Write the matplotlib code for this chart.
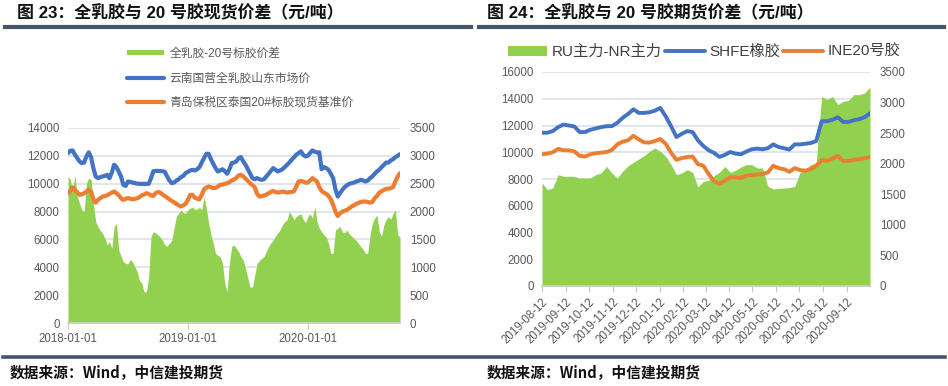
import numpy as np
import pandas as pd
import matplotlib
matplotlib.use('Agg')
import matplotlib.pyplot as plt
import matplotlib.dates as mdates
from matplotlib.lines import Line2D

plt.rcParams['font.family'] = ['Liberation Sans', 'Noto Sans CJK SC', 'DejaVu Sans']

GREEN = '#92D050'
BLUE = '#4472C4'
ORANGE = '#ED7D31'
GRID = '#D9DEEA'
TICK = '#595959'
BAR = '#44546A'

# ---- chart 23: weekly values from 2018-01-01 ----
spread_23 = [2630, 2570, 2360, 2660, 2270, 2150, 2030, 2000, 2510, 2600,
             2570, 2150, 1820, 1730, 1660, 1610, 1520, 1400, 1460, 1340,
             1730, 1790, 1310, 1200, 1100, 1070, 1060, 1140, 1100, 1010,
             920, 760, 720, 560, 560, 830, 1550, 1640, 1620, 1580,
             1540, 1480, 1400, 1380, 1430, 1480, 1700, 1910, 1970, 2030,
             1980, 1970, 2030, 2060, 2080, 2040, 2040, 2080, 2030, 2270,
             2060, 1790, 1580, 1430, 1250, 1210, 1190, 1070, 710, 560,
             1070, 1370, 1400, 1340, 1280, 1190, 1130, 980, 800, 640,
             650, 860, 1070, 1120, 1160, 1190, 1280, 1370, 1440, 1490,
             1560, 1620, 1670, 1760, 1820, 1850, 2000, 1940, 1850, 1910,
             1940, 1960, 1860, 1800, 1910, 1960, 1880, 2090, 1820, 1700,
             1640, 1580, 1540, 1430, 1250, 1250, 1670, 1700, 1730, 1640,
             1620, 1670, 1600, 1560, 1520, 1480, 1430, 1370, 1320, 1250,
             1250, 1580, 1790, 1880, 1940, 1640, 1560, 1760, 1860, 1910,
             1860, 1970, 2030, 1580, 1550]
yunnan = [12200, 12370, 12390, 12080, 11840, 11600, 11480, 11520, 11960, 12250,
          11910, 11120, 10520, 10400, 10470, 10520, 10560, 10640, 10400, 10800,
          11360, 11190, 10880, 10520, 9920, 9840, 10160, 10130, 10080, 10040,
          10010, 9990, 9990, 9990, 9990, 9990, 10400, 10900, 10920, 10920,
          10900, 10900, 10850, 10520, 10230, 10040, 10080, 10230, 10320, 10470,
          10560, 10760, 10850, 10950, 11000, 10950, 11040, 11190, 11520, 11840,
          12150, 12150, 11760, 11430, 11120, 10880, 10950, 11040, 10900, 10710,
          11040, 11480, 11520, 11600, 11840, 11910, 11600, 11360, 11040, 10710,
          10400, 10320, 10400, 10320, 10280, 10320, 10520, 10710, 10920, 11120,
          11000, 10880, 10950, 11040, 11190, 11360, 11520, 11720, 11890, 12080,
          12200, 12320, 12080, 11960, 12010, 12200, 12390, 12300, 12250, 12250,
          11040, 11190, 11120, 11000, 10710, 10400, 9600, 9080, 9320, 9560,
          9750, 9890, 9990, 10040, 10080, 10160, 10200, 10280, 10230, 10160,
          10230, 10400, 10520, 10710, 10880, 11000, 11190, 11360, 11520, 11520,
          11670, 11760, 11910, 12010, 12120]
qingdao = [9320, 9480, 9750, 9560, 9390, 9200, 9240, 9320, 9440, 9560,
           9440, 8880, 8640, 8840, 8960, 9080, 9120, 9170, 9270, 9360,
           9440, 9320, 9170, 8960, 8840, 8910, 8960, 8930, 8880, 8910,
           8960, 9030, 9170, 9220, 9320, 9270, 9170, 9120, 9320, 9410,
           9360, 9220, 9120, 9000, 8880, 8760, 8670, 8550, 8450, 8360,
           8450, 8550, 8840, 9200, 9200, 9000, 8930, 8880, 9200, 9600,
           9720, 9800, 9750, 9680, 9700, 9800, 9920, 9940, 9990, 10040,
           10110, 10230, 10300, 10420, 10590, 10640, 10520, 10370, 10200, 10040,
           9890, 9750, 9270, 9080, 9100, 9150, 9220, 9320, 9410, 9480,
           9410, 9360, 9390, 9440, 9410, 9360, 9390, 9410, 9460, 9800,
           10160, 10200, 10160, 10080, 10080, 10230, 10400, 10280, 10160, 9750,
           9480, 9360, 9270, 9120, 8880, 8480, 8000, 7680, 7880, 8000,
           8070, 8120, 8240, 8360, 8450, 8550, 8620, 8690, 8720, 8720,
           8690, 8640, 8690, 8960, 9120, 9360, 9460, 9560, 9630, 9650,
           9680, 9750, 10160, 10520, 10760]
labels_23 = ['全乳胶-20号标胶价差', '云南国营全乳胶山东市场价', '青岛保税区泰国20#标胶现货基准价']
ticks_23 = ['2018-01-01', '2019-01-01', '2020-01-01']

# ---- chart 24: weekly values from 2019-08-12 ----
rn_spread = [1685, 1576, 1603, 1821, 1794, 1794, 1794, 1766, 1766, 1766,
             1821, 1848, 1957, 1848, 1766, 1876, 1968, 2023, 2077, 2132,
             2203, 2257, 2203, 2121, 1985, 1821, 1848, 1903, 1859, 1619,
             1712, 1728, 1805, 1859, 1957, 1859, 1892, 1946, 1985, 1985,
             1930, 1930, 1630, 1587, 1597, 1603, 1608, 1630, 1859, 1914,
             1985, 2012, 3102, 3048, 3102, 2966, 3020, 3037, 3129, 3129,
             3157, 3255]
shfe = [11460, 11460, 11580, 11880, 12070, 12000, 11930, 11510, 11510, 11680,
        11780, 11880, 11950, 11950, 12200, 12570, 12860, 13210, 12940, 12940,
        12990, 13110, 13310, 12690, 11950, 11140, 11380, 11580, 11510, 10890,
        10470, 10150, 9950, 9650, 9800, 10020, 9900, 9850, 10050, 10220,
        10270, 10220, 10300, 10590, 10390, 10300, 10200, 10590, 10590, 10640,
        10690, 10840, 12320, 12320, 12420, 12620, 12270, 12270, 12390, 12470,
        12620, 12910]
ine = [9850, 9900, 10000, 10250, 10150, 10150, 10070, 9730, 9680, 9850,
       9930, 9970, 10020, 10170, 10590, 10790, 10890, 11230, 10960, 10740,
       10720, 10840, 10990, 10640, 9970, 9430, 9560, 9650, 9680, 9110,
       8990, 8370, 7830, 7630, 7880, 8120, 8120, 8070, 8250, 8300,
       8320, 8370, 8490, 8990, 8810, 8740, 8540, 8810, 8670, 8620,
       8740, 8990, 9410, 9360, 9530, 9730, 9360, 9360, 9430, 9480,
       9560, 9650]
labels_24 = ['RU主力-NR主力', 'SHFE橡胶', 'INE20号胶']
ticks_24 = ['2019-08-12', '2019-09-12', '2019-10-12', '2019-11-12', '2019-12-12',
            '2020-01-12', '2020-02-12', '2020-03-12', '2020-04-12', '2020-05-12',
            '2020-06-12', '2020-07-12', '2020-08-12', '2020-09-12']

dates_23 = pd.date_range('2018-01-01', periods=len(spread_23), freq='7D')
dates_24 = pd.date_range('2019-08-12', periods=len(rn_spread), freq='7D')

W, H = 948, 386
fig = plt.figure(figsize=(W / 100, H / 100), dpi=100)


def rect(x0, y0, x1, y1):
    return [x0 / W, 1 - y1 / H, (x1 - x0) / W, (y1 - y0) / H]


def panel(box, dates, area, blue, orange, labels, ymax, lw):
    ax = fig.add_axes(box)
    ax_r = ax.twinx()
    ax_l = ax.twinx()
    ax.set_ylim(0, ymax)
    ax.set_yticks(np.arange(0, ymax + 1, 2000))
    ax.grid(axis='y', color=GRID, lw=1.1)
    ax.set_axisbelow(True)
    ax_r.fill_between(dates, 0, area, color=GREEN, lw=0, label=labels[0])
    ax_r.set_ylim(0, 3500)
    ax_r.set_yticks(np.arange(0, 3501, 500))
    ax_l.plot(dates, blue, color=BLUE, lw=lw, label=labels[1], solid_capstyle='round')
    ax_l.plot(dates, orange, color=ORANGE, lw=lw, label=labels[2], solid_capstyle='round')
    ax_l.set_ylim(0, ymax)
    ax_l.set_yticks([])
    ax.set_xlim(dates[0], dates[-1])
    for a in (ax, ax_r, ax_l):
        for s in a.spines.values():
            s.set_visible(False)
    for a in (ax, ax_l):
        a.spines['bottom'].set_visible(True)
        a.spines['bottom'].set_color('#D0D0D0')
        a.spines['bottom'].set_linewidth(1.2)
    ax.tick_params(axis='y', length=0, labelcolor=TICK, labelsize=8.3, pad=6)
    ax_r.tick_params(axis='y', length=0, labelcolor=TICK, labelsize=8.3, pad=7)
    ax.tick_params(axis='x', length=4, color='#C8C8C8', labelcolor=TICK, labelsize=8.3, pad=3)
    ax.xaxis.set_major_formatter(mdates.DateFormatter('%Y-%m-%d'))
    h1, l1 = ax_r.get_legend_handles_labels()
    h2, l2 = ax_l.get_legend_handles_labels()
    return ax, h1 + h2, l1 + l2


# left chart
ax1, h, l = panel(rect(68, 128, 400, 323), dates_23, spread_23, yunnan, qingdao,
                  labels_23, 14000, 3.0)
ax1.set_xticks(pd.to_datetime(ticks_23))
fig.legend(h, l, loc='upper left', bbox_to_anchor=(127 / W, 1 - 48 / H), frameon=False,
           fontsize=8.5, labelcolor=TICK, handlelength=3.1, handleheight=0.25,
           labelspacing=1.05, handletextpad=0.5, borderpad=0, borderaxespad=0)

# right chart
ax2, h, l = panel(rect(542, 72, 870, 286), dates_24, rn_spread, shfe, ine,
                  labels_24, 16000, 2.8)
ax2.set_xticks(pd.to_datetime(ticks_24))
for t in ax2.get_xticklabels():
    t.set_rotation(45)
    t.set_ha('right')
    t.set_rotation_mode('anchor')
fig.legend(h, l, loc='upper center', bbox_to_anchor=(704 / W, 1 - 45 / H), frameon=False,
           ncol=3, fontsize=11, labelcolor='#404040', handlelength=2.6, handleheight=0.6,
           columnspacing=0.2, handletextpad=0.3, borderpad=0, borderaxespad=0)

# headers, rules and sources
title_font = dict(fontsize=12.2, fontweight='bold', va='center', color='#111111')
fig.text(17 / W, 1 - 13 / H, '图 23：全乳胶与 20 号胶现货价差（元/吨）', **title_font)
fig.text(487 / W, 1 - 13 / H, '图 24：全乳胶与 20 号胶期货价差（元/吨）', **title_font)
for x0, x1 in ((5, 471), (479, 944)):
    fig.add_artist(Line2D([x0 / W, x1 / W], [1 - 26.5 / H] * 2, color=BAR, lw=3))
fig.add_artist(Line2D([3 / W, 945 / W], [1 - 357 / H] * 2, color=BAR, lw=2.6))
src_font = dict(fontsize=10.6, fontweight='bold', va='center', color='#111111',
                family=['Noto Sans CJK SC', 'DejaVu Sans'])
fig.text(10 / W, 1 - 373 / H, '数据来源：Wind，中信建投期货', **src_font)
fig.text(487 / W, 1 - 373 / H, '数据来源：Wind，中信建投期货', **src_font)

fig.savefig('out.png', dpi=100)
